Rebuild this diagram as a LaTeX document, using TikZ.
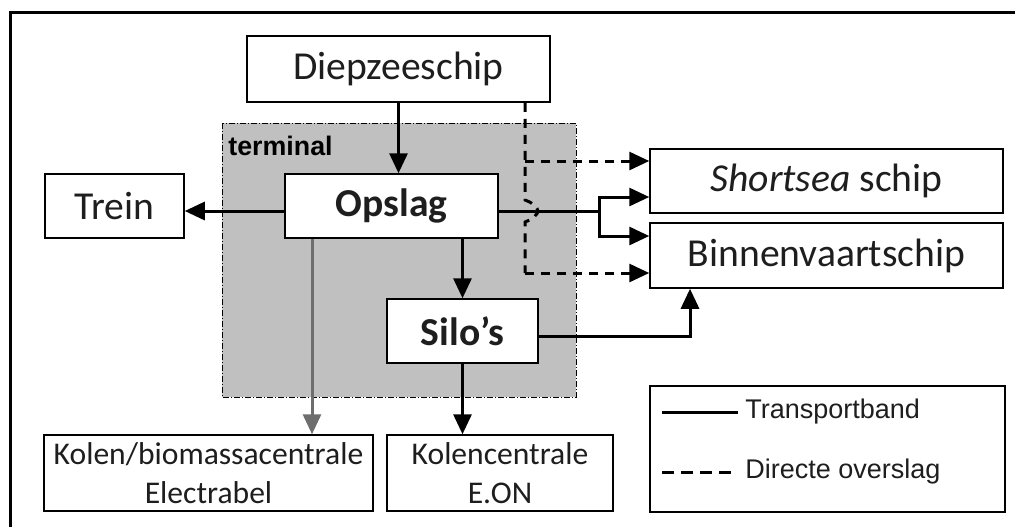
\documentclass[tikz,border=0pt]{standalone}
\usepackage{fontspec}
\setmainfont{Carlito}
\newfontfamily\arialfont{Liberation Sans}
\usetikzlibrary{arrows.meta}

\definecolor{termgray}{HTML}{C0C0C0}
\definecolor{feedgray}{HTML}{6E6E6E}
\definecolor{inkgray}{HTML}{1E1E1E}

\tikzset{
  box/.style={draw=black,line width=0.75pt,fill=white,inner sep=0pt,text=inkgray,
    font=\fontsize{19.8}{23}\selectfont},
  smallbox/.style={box,align=center,font=\fontsize{15.8}{19.5}\selectfont},
  belt/.style={line width=1.5pt,-{Triangle[length=10pt,width=9pt]}},
  direct/.style={belt,dash pattern=on 4.5pt off 3.5pt},
  legtext/.style={anchor=west,inner sep=0pt,text=inkgray,font=\arialfont\fontsize{13.5}{16}\selectfont},
}

\begin{document}
\begin{tikzpicture}[x=0.5pt,y=-0.5pt]
  \useasboundingbox (0,0) rectangle (1015,527);
  \fill[white] (0,0) rectangle (1015,527);
  \draw[line width=1.5pt] (10,527) -- (10,12) -- (1015,12);

  % terminal area
  \draw[fill=termgray,line width=0.5pt,dash pattern=on 3pt off 1pt on 0.5pt off 1pt]
    (222,123) rectangle (576,397);
  \node (TERM) at (228,146) [anchor=west,inner sep=0pt]
    {\arialfont\fontsize{13.4}{15}\selectfont\bfseries terminal};

  % boxes
  \node (DZS) at (398.5,69) [box,minimum width=151.5pt,minimum height=33pt] {Diepzeeschip};
  \node (OPS) at (391.5,206) [box,minimum width=106.5pt,minimum height=32pt] {\bfseries Opslag};
  \node (TRN) at (114.5,206) [box,minimum width=69.5pt,minimum height=32pt] {Trein};
  \node (SSS) at (826.5,181) [box,minimum width=176.5pt,minimum height=32pt] {\itshape Shortsea\upshape{} schip};
  \node (BVS) at (826.5,255.5) [box,minimum width=176.5pt,minimum height=32.5pt] {Binnenvaartschip};
  \node (SIL) at (462.5,331) [box,minimum width=75.5pt,minimum height=32pt] {\bfseries Silo’s};
  \node (KBC) at (208.5,473) [smallbox,minimum width=164.5pt,minimum height=38pt]
    {Kolen/biomassacentrale\\Electrabel};
  \node (KEC) at (500,473) [smallbox,minimum width=113pt,minimum height=38pt]
    {Kolencentrale\\E.ON};

  % transportband
  \coordinate (SPLIT) at (599,211);
  \draw[belt] (DZS.south) -- (DZS.south |- OPS.north);
  \draw[belt] ([yshift=-2.5pt]OPS.west) -- ([yshift=-2.5pt]TRN.east);
  \draw[line width=1.5pt] ([yshift=-2.5pt]OPS.east) -- (SPLIT);
  \draw[belt] (SPLIT) |- ([yshift=-8pt]SSS.west);
  \draw[belt] (SPLIT) |- ([yshift=9.75pt]BVS.west);
  \draw[belt] (OPS.south -| SIL.north) -- (SIL.north);
  \draw[belt,draw=feedgray,fill=feedgray] (OPS.south -| 312,0) -- (KBC.north -| 312,0);
  \draw[belt] (SIL.south) -- (SIL.south |- KEC.north);
  \draw[belt] ([yshift=-2.5pt]SIL.east) -| (BVS.south -| 690,0);

  % directe overslag
  \coordinate (DTOP) at (DZS.south -| 525,0);
  \coordinate (DBOT) at (525,273);
  \draw[direct,-] (DTOP) -- (525,200)
    .. controls (532,202) and (538,208) .. (538,211)
    .. controls (538,214) and (532,220) .. (525,222) -- (DBOT);
  \draw[direct] (525,161) -- (SSS.west |- 525,161);
  \draw[direct] (DBOT) -- (BVS.west |- DBOT);

  % legenda
  \node (LEG) at (827.5,449) [draw=black,line width=0.75pt,minimum width=177.5pt,minimum height=63pt] {};
  \node (LSOL) at (745,412) [legtext] {Transportband};
  \node (LDSH) at (745,472) [legtext] {Directe overslag};
  \draw[line width=1.5pt] (662,412) -- (738,412);
  \draw[line width=1.5pt,dash pattern=on 6pt off 3.5pt] (662,472) -- (738,472);
\end{tikzpicture}
\end{document}
